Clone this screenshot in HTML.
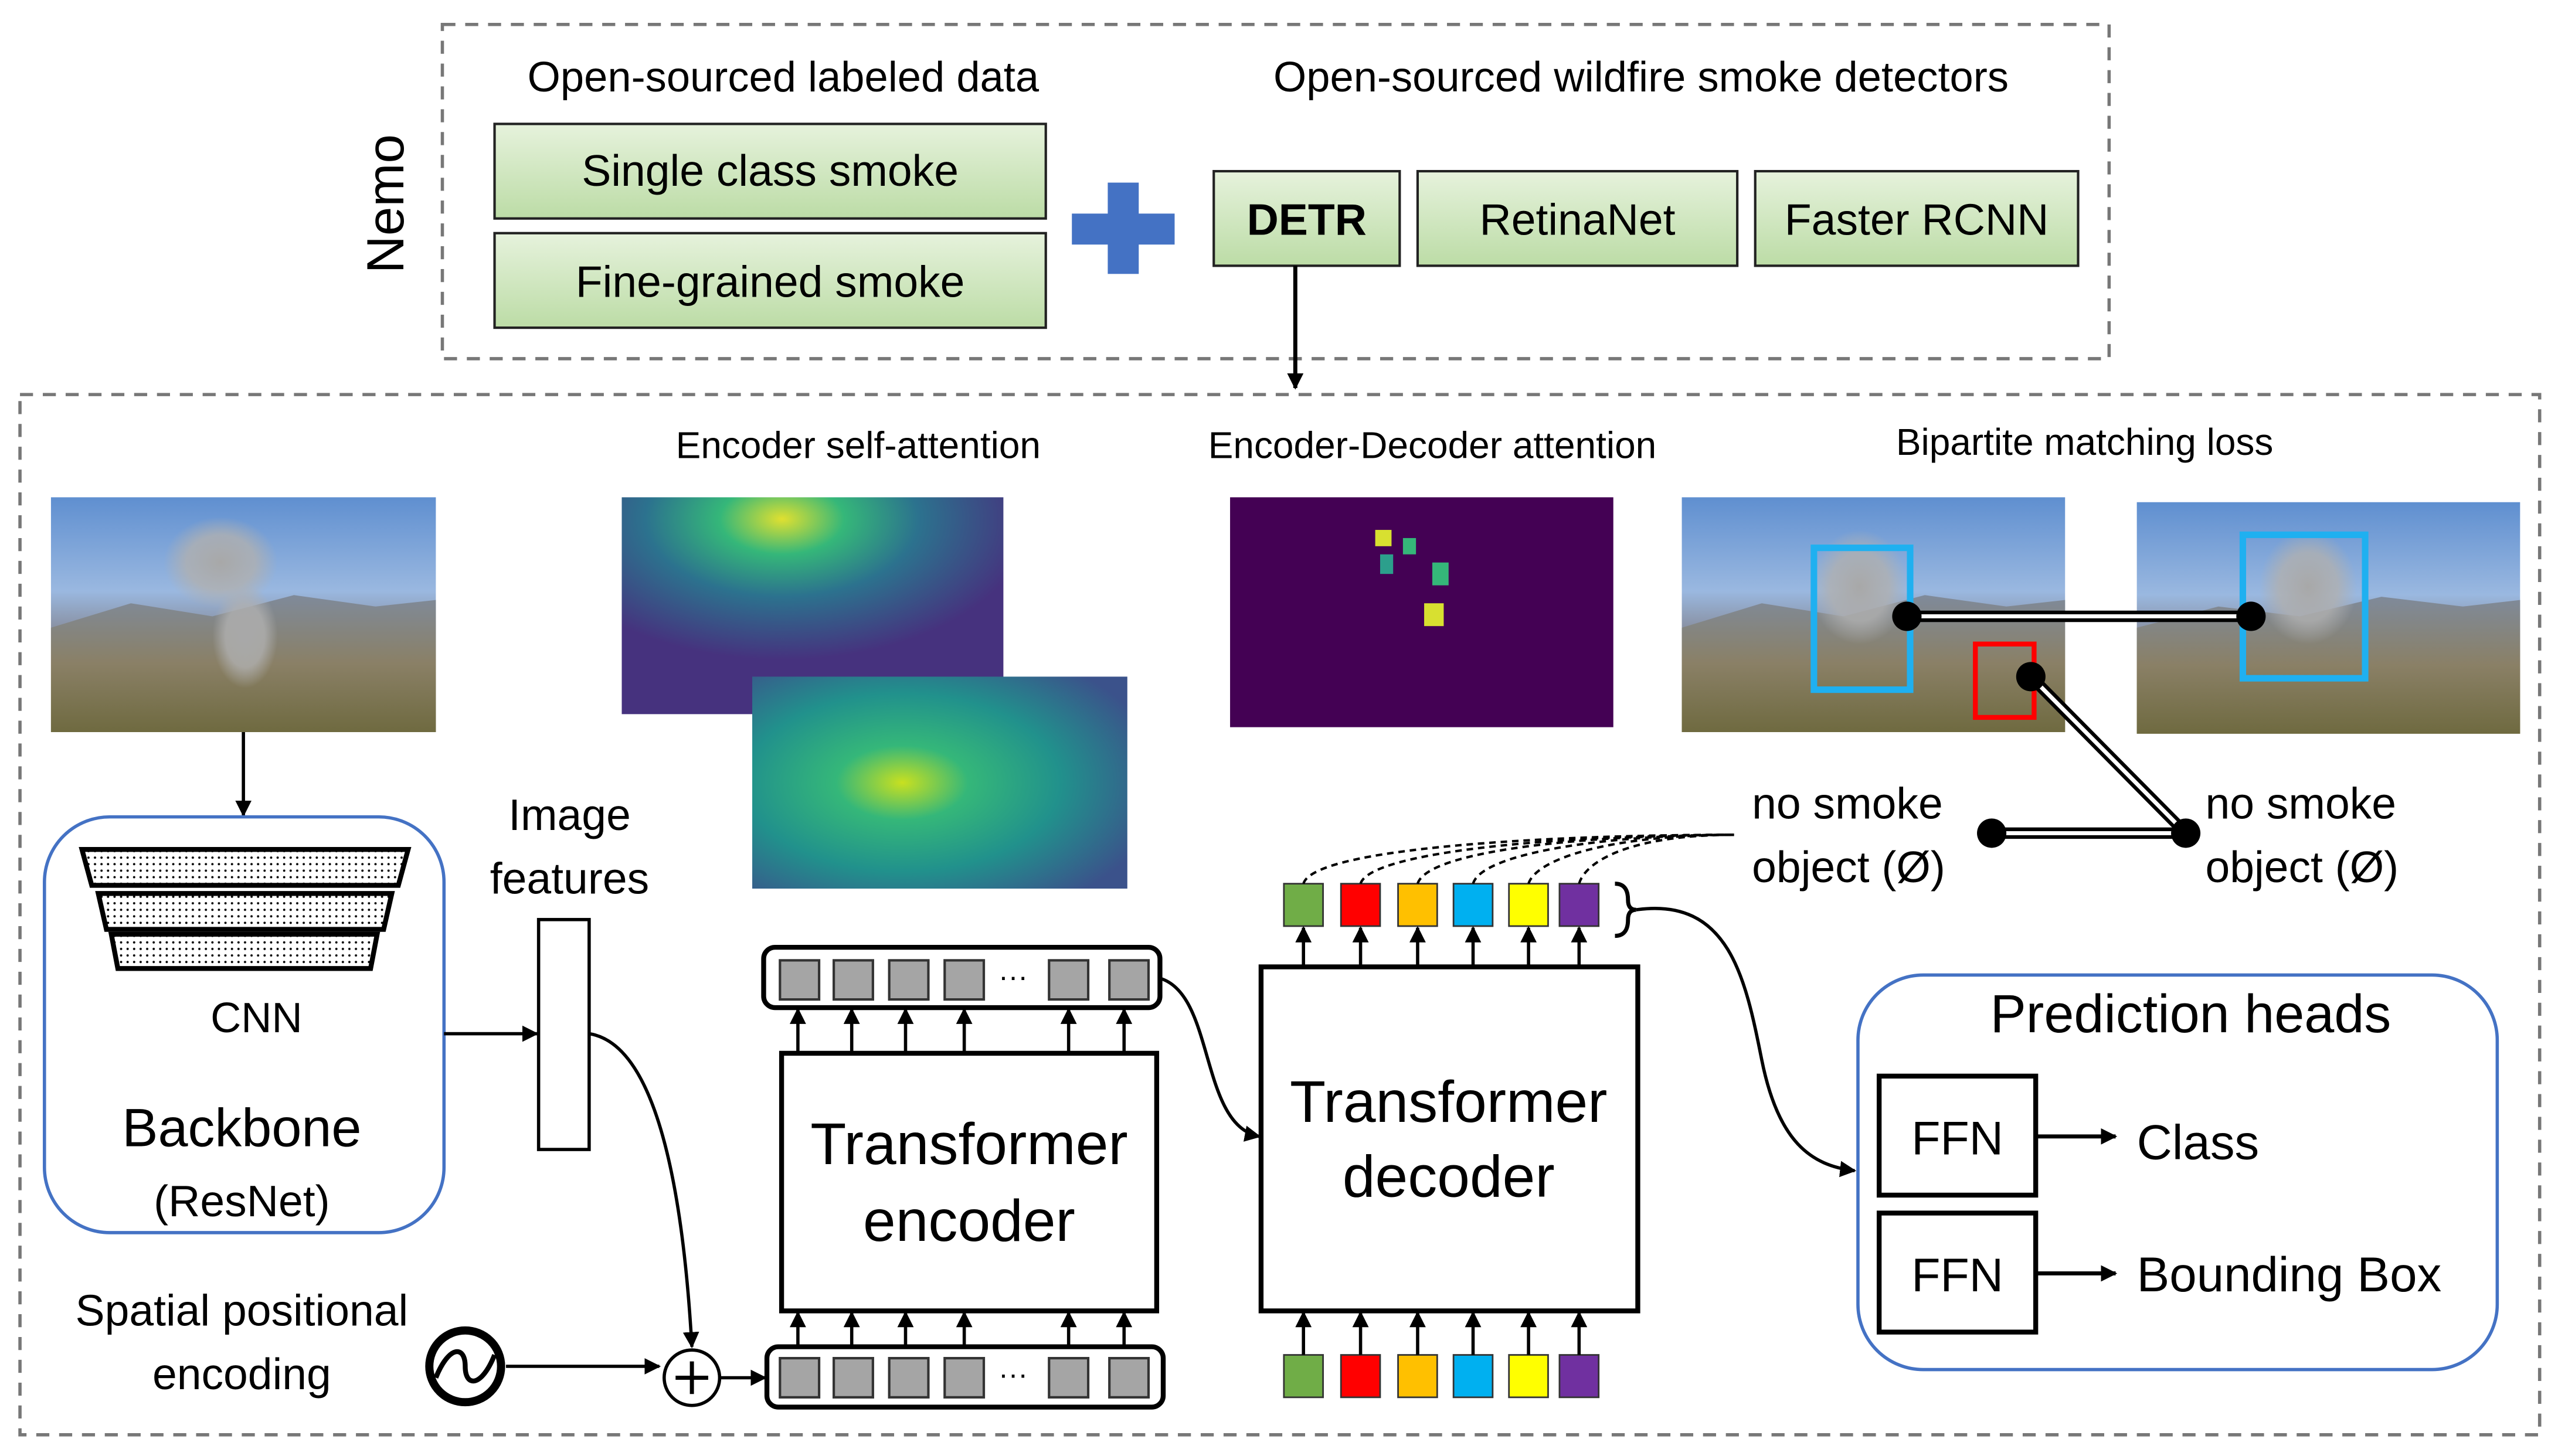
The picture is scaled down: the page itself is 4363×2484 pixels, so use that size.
<!DOCTYPE html>
<html><head><meta charset="utf-8"><style>html,body{margin:0;padding:0;background:#fff}svg{display:block}text{font-family:"Liberation Sans",sans-serif;fill:#000}</style></head><body>
<svg width="4363" height="2484" viewBox="0 0 1568 893" xmlns="http://www.w3.org/2000/svg">
<defs>
<linearGradient id="g" x1="0" y1="0" x2="0" y2="1"><stop offset="0" stop-color="#e6f2dc"/><stop offset="1" stop-color="#bcdca6"/></linearGradient>
<linearGradient id="sky" x1="0" y1="0" x2="0" y2="1"><stop offset="0" stop-color="#5f8fd0"/><stop offset="0.4" stop-color="#9ab8e0"/><stop offset="0.55" stop-color="#8a93a6"/><stop offset="0.75" stop-color="#8d8470"/><stop offset="1" stop-color="#7e7a50"/></linearGradient>
<linearGradient id="mtn" x1="0" y1="0" x2="0" y2="1"><stop offset="0" stop-color="#7f8a9a"/><stop offset="0.5" stop-color="#8a8066"/><stop offset="1" stop-color="#6f6a40"/></linearGradient>
<radialGradient id="a1" cx="0.42" cy="0.1" r="0.65"><stop offset="0" stop-color="#e0e030"/><stop offset="0.25" stop-color="#35b779"/><stop offset="0.55" stop-color="#2c728e"/><stop offset="1" stop-color="#46327e"/></radialGradient>
<radialGradient id="a2" cx="0.4" cy="0.5" r="0.7"><stop offset="0" stop-color="#c8e020"/><stop offset="0.25" stop-color="#35b779"/><stop offset="0.6" stop-color="#21918c"/><stop offset="1" stop-color="#3b528b"/></radialGradient>
<radialGradient id="sm" cx="0.5" cy="0.5" r="0.5"><stop offset="0" stop-color="#a8a8a8"/><stop offset="0.6" stop-color="#b0b0b0" stop-opacity="0.8"/><stop offset="1" stop-color="#b0b0b0" stop-opacity="0"/></radialGradient>
<pattern id="dots" width="4" height="4" patternUnits="userSpaceOnUse"><rect width="4" height="4" fill="#fff"/><circle cx="2" cy="2" r="0.7" fill="#000"/></pattern>
<marker id="ar" markerWidth="10" markerHeight="10" refX="9" refY="5" orient="auto" markerUnits="userSpaceOnUse"><path d="M0,0 L10,5 L0,10 z" fill="#000"/></marker>
</defs>
<rect x="271" y="15" width="1022" height="205" fill="none" stroke="#777" stroke-width="2" stroke-dasharray="8,6"/>
<rect x="12" y="242" width="1545" height="638" fill="none" stroke="#777" stroke-width="2" stroke-dasharray="8,6"/>
<text x="247" y="125" font-size="32" text-anchor="middle" transform="rotate(-90 247 125)">Nemo</text>
<text x="480" y="56" font-size="26" text-anchor="middle">Open-sourced labeled data</text>
<text x="1006" y="56" font-size="26" text-anchor="middle">Open-sourced wildfire smoke detectors</text>
<rect x="303" y="76" width="338" height="58" fill="url(#g)" stroke="#222" stroke-width="1.5"/>
<text x="472" y="114" font-size="27" text-anchor="middle">Single class smoke</text>
<rect x="303" y="143" width="338" height="58" fill="url(#g)" stroke="#222" stroke-width="1.5"/>
<text x="472" y="182" font-size="27" text-anchor="middle">Fine-grained smoke</text>
<rect x="657" y="131" width="63" height="19" fill="#4472c4"/><rect x="679" y="112" width="19" height="56" fill="#4472c4"/>
<rect x="744" y="105" width="114" height="58" fill="url(#g)" stroke="#222" stroke-width="1.5"/>
<text x="801" y="144" font-size="27" font-weight="bold" text-anchor="middle">DETR</text>
<rect x="869" y="105" width="196" height="58" fill="url(#g)" stroke="#222" stroke-width="1.5"/>
<text x="967" y="144" font-size="27" text-anchor="middle">RetinaNet</text>
<rect x="1076" y="105" width="198" height="58" fill="url(#g)" stroke="#222" stroke-width="1.5"/>
<text x="1175" y="144" font-size="27" text-anchor="middle">Faster RCNN</text>
<line x1="794" y1="163" x2="794" y2="238" stroke="#000" stroke-width="2.5" marker-end="url(#ar)"/>
<text x="526" y="281" font-size="23" text-anchor="middle">Encoder self-attention</text>
<text x="878" y="281" font-size="23" text-anchor="middle">Encoder-Decoder attention</text>
<text x="1278" y="279" font-size="23" text-anchor="middle">Bipartite matching loss</text>
<!-- photos -->
<g><rect x="31" y="305" width="236" height="144" fill="url(#sky)"/><path d="M31,385 L80,370 L130,378 L180,365 L230,372 L267,368 L267,449 L31,449 Z" fill="url(#mtn)"/><ellipse cx="135" cy="345" rx="35" ry="28" fill="url(#sm)"/><ellipse cx="150" cy="390" rx="20" ry="32" fill="url(#sm)"/></g>
<g><rect x="1031" y="305" width="235" height="144" fill="url(#sky)"/><path d="M1031,385 L1080,370 L1130,378 L1180,365 L1230,372 L1266,368 L1266,449 L1031,449 Z" fill="url(#mtn)"/><ellipse cx="1140" cy="360" rx="30" ry="35" fill="url(#sm)"/></g>
<g><rect x="1310" y="308" width="235" height="142" fill="url(#sky)"/><path d="M1310,385 L1360,372 L1410,378 L1460,366 L1510,372 L1545,368 L1545,450 L1310,450 Z" fill="url(#mtn)"/><ellipse cx="1415" cy="360" rx="30" ry="35" fill="url(#sm)"/></g>
<rect x="1112" y="336" width="59" height="87" fill="none" stroke="#1fb0f0" stroke-width="4"/>
<rect x="1375" y="328" width="75" height="88" fill="none" stroke="#1fb0f0" stroke-width="4"/>
<rect x="1211" y="395" width="36" height="45" fill="none" stroke="#f00" stroke-width="3"/>
<!-- attention maps -->
<rect x="381" y="305" width="234" height="133" fill="url(#a1)"/>
<rect x="461" y="415" width="230" height="130" fill="url(#a2)"/>
<rect x="754" y="305" width="235" height="141" fill="#440154"/>
<rect x="843" y="325" width="10" height="10" fill="#d8e030"/><rect x="860" y="330" width="8" height="10" fill="#35b779"/><rect x="846" y="340" width="8" height="12" fill="#2c9f8c"/><rect x="878" y="345" width="10" height="14" fill="#35b779"/><rect x="873" y="370" width="12" height="14" fill="#d8e030"/>
<!-- matching lines -->
<g stroke="#000" stroke-width="7"><line x1="1169" y1="378" x2="1380" y2="378"/><line x1="1245" y1="415" x2="1340" y2="511"/><line x1="1221" y1="511" x2="1340" y2="511"/></g>
<g stroke="#fff" stroke-width="2.5"><line x1="1169" y1="378" x2="1380" y2="378"/><line x1="1245" y1="415" x2="1340" y2="511"/><line x1="1221" y1="511" x2="1340" y2="511"/></g>
<g fill="#000"><circle cx="1169" cy="378" r="9"/><circle cx="1380" cy="378" r="9"/><circle cx="1245" cy="415" r="9"/><circle cx="1340" cy="511" r="9"/><circle cx="1221" cy="511" r="9"/></g>
<text x="1074" y="502" font-size="27">no smoke</text><text x="1074" y="541" font-size="27">object (Ø)</text>
<text x="1352" y="502" font-size="27">no smoke</text><text x="1352" y="541" font-size="27">object (Ø)</text>
<!-- backbone -->
<line x1="149" y1="449" x2="149" y2="500" stroke="#000" stroke-width="2" marker-end="url(#ar)"/>
<rect x="27" y="501" width="245" height="255" rx="40" fill="none" stroke="#4472c4" stroke-width="2"/>
<path d="M50,521 L250,521 L244,543 L56,543 Z" fill="url(#dots)" stroke="#000" stroke-width="3"/>
<path d="M60,548 L240,548 L235,570 L65,570 Z" fill="url(#dots)" stroke="#000" stroke-width="3"/>
<path d="M68,573 L231,573 L227,594 L72,594 Z" fill="url(#dots)" stroke="#000" stroke-width="3"/>
<text x="157" y="633" font-size="26" text-anchor="middle">CNN</text>
<text x="148" y="703" font-size="33" text-anchor="middle">Backbone</text>
<text x="148" y="746" font-size="27" text-anchor="middle">(ResNet)</text>
<text x="349" y="509" font-size="27" text-anchor="middle">Image</text><text x="349" y="548" font-size="27" text-anchor="middle">features</text>
<rect x="330" y="564" width="31" height="141" fill="#fff" stroke="#000" stroke-width="2"/>
<line x1="272" y1="634" x2="329" y2="634" stroke="#000" stroke-width="2" marker-end="url(#ar)"/>
<path d="M361,634 C400,640 418,720 424,826" fill="none" stroke="#000" stroke-width="2" marker-end="url(#ar)"/>
<text x="148" y="813" font-size="27" text-anchor="middle">Spatial positional</text><text x="148" y="852" font-size="27" text-anchor="middle">encoding</text>
<circle cx="285" cy="838" r="22" fill="#fff" stroke="#000" stroke-width="5"/>
<path d="M267,845 C275,825 285,825 285,838 C285,851 295,851 303,831" fill="none" stroke="#000" stroke-width="3"/>
<line x1="310" y1="838" x2="404" y2="838" stroke="#000" stroke-width="2" marker-end="url(#ar)"/>
<circle cx="424" cy="845" r="17" fill="#fff" stroke="#000" stroke-width="2"/>
<path d="M414,845 H434 M424,835 V855" stroke="#000" stroke-width="2.5"/>
<line x1="441" y1="845" x2="469" y2="845" stroke="#000" stroke-width="2" marker-end="url(#ar)"/>
<!-- token bars -->
<g fill="#a5a5a5" stroke="#333" stroke-width="1.5">
<rect x="470" y="826" width="243" height="37" rx="7" fill="#fff" stroke="#000" stroke-width="3"/>
<rect x="478" y="833" width="24" height="24"/><rect x="511" y="833" width="24" height="24"/><rect x="545" y="833" width="24" height="24"/><rect x="579" y="833" width="24" height="24"/><rect x="643" y="833" width="24" height="24"/><rect x="680" y="833" width="24" height="24"/>
<rect x="468" y="581" width="243" height="37" rx="7" fill="#fff" stroke="#000" stroke-width="3"/>
<rect x="478" y="589" width="24" height="24"/><rect x="511" y="589" width="24" height="24"/><rect x="545" y="589" width="24" height="24"/><rect x="579" y="589" width="24" height="24"/><rect x="643" y="589" width="24" height="24"/><rect x="680" y="589" width="24" height="24"/>
</g>
<text x="621" y="849" font-size="18" text-anchor="middle">···</text><text x="621" y="605" font-size="18" text-anchor="middle">···</text>
<rect x="479" y="646" width="230" height="158" fill="#fff" stroke="#000" stroke-width="3"/>
<text x="594" y="714" font-size="36" text-anchor="middle">Transformer</text><text x="594" y="761" font-size="36" text-anchor="middle">encoder</text>
<g stroke="#000" stroke-width="2" marker-end="url(#ar)">
<line x1="489" y1="826" x2="489" y2="805"/><line x1="522" y1="826" x2="522" y2="805"/><line x1="555" y1="826" x2="555" y2="805"/><line x1="591" y1="826" x2="591" y2="805"/><line x1="655" y1="826" x2="655" y2="805"/><line x1="689" y1="826" x2="689" y2="805"/>
<line x1="489" y1="646" x2="489" y2="619"/><line x1="522" y1="646" x2="522" y2="619"/><line x1="555" y1="646" x2="555" y2="619"/><line x1="591" y1="646" x2="591" y2="619"/><line x1="655" y1="646" x2="655" y2="619"/><line x1="689" y1="646" x2="689" y2="619"/>
</g>
<path d="M711,600 C745,610 735,690 772,697" fill="none" stroke="#000" stroke-width="2" marker-end="url(#ar)"/>
<rect x="773" y="593" width="231" height="211" fill="#fff" stroke="#000" stroke-width="3"/>
<text x="888" y="688" font-size="36" text-anchor="middle">Transformer</text><text x="888" y="734" font-size="36" text-anchor="middle">decoder</text>
<!-- queries -->
<g stroke="#333" stroke-width="1">
<rect x="787" y="831" width="24" height="26" fill="#70ad47"/><rect x="822" y="831" width="24" height="26" fill="#ff0000"/><rect x="857" y="831" width="24" height="26" fill="#ffc000"/><rect x="891" y="831" width="24" height="26" fill="#00b0f0"/><rect x="925" y="831" width="24" height="26" fill="#ffff00"/><rect x="956" y="831" width="24" height="26" fill="#7030a0"/>
<rect x="787" y="542" width="24" height="26" fill="#70ad47"/><rect x="822" y="542" width="24" height="26" fill="#ff0000"/><rect x="857" y="542" width="24" height="26" fill="#ffc000"/><rect x="891" y="542" width="24" height="26" fill="#00b0f0"/><rect x="925" y="542" width="24" height="26" fill="#ffff00"/><rect x="956" y="542" width="24" height="26" fill="#7030a0"/>
</g>
<g stroke="#000" stroke-width="2" marker-end="url(#ar)">
<line x1="799" y1="831" x2="799" y2="805"/><line x1="834" y1="831" x2="834" y2="805"/><line x1="869" y1="831" x2="869" y2="805"/><line x1="903" y1="831" x2="903" y2="805"/><line x1="937" y1="831" x2="937" y2="805"/><line x1="968" y1="831" x2="968" y2="805"/>
<line x1="799" y1="593" x2="799" y2="569"/><line x1="834" y1="593" x2="834" y2="569"/><line x1="869" y1="593" x2="869" y2="569"/><line x1="903" y1="593" x2="903" y2="569"/><line x1="937" y1="593" x2="937" y2="569"/><line x1="968" y1="593" x2="968" y2="569"/>
</g>
<g fill="none" stroke="#000" stroke-width="1.5" stroke-dasharray="4,3">
<path d="M799,542 C805,520 950,512 1063,512"/><path d="M834,542 C840,522 960,512 1063,512"/><path d="M869,542 C875,522 970,512 1063,512"/><path d="M903,542 C908,524 980,512 1063,512"/><path d="M937,542 C942,526 990,512 1063,512"/><path d="M968,542 C972,528 1000,512 1063,512"/>
</g>
<path d="M990,542 Q998,542 998,552 Q998,558 1003,558 Q998,558 998,564 Q998,574 990,574" fill="none" stroke="#000" stroke-width="2.5"/>
<path d="M1003,558 C1060,550 1070,600 1080,650 C1090,700 1110,715 1137,718" fill="none" stroke="#000" stroke-width="2" marker-end="url(#ar)"/>
<!-- prediction heads -->
<rect x="1139" y="598" width="392" height="242" rx="40" fill="none" stroke="#4472c4" stroke-width="2"/>
<text x="1343" y="633" font-size="33" text-anchor="middle">Prediction heads</text>
<rect x="1152" y="660" width="96" height="73" fill="#fff" stroke="#000" stroke-width="3"/>
<text x="1200" y="708" font-size="29" text-anchor="middle">FFN</text>
<rect x="1152" y="744" width="96" height="73" fill="#fff" stroke="#000" stroke-width="3"/>
<text x="1200" y="792" font-size="29" text-anchor="middle">FFN</text>
<line x1="1248" y1="697" x2="1297" y2="697" stroke="#000" stroke-width="2.5" marker-end="url(#ar)"/>
<line x1="1248" y1="781" x2="1297" y2="781" stroke="#000" stroke-width="2.5" marker-end="url(#ar)"/>
<text x="1310" y="711" font-size="30">Class</text>
<text x="1310" y="792" font-size="30">Bounding Box</text>
</svg>
</body></html>
